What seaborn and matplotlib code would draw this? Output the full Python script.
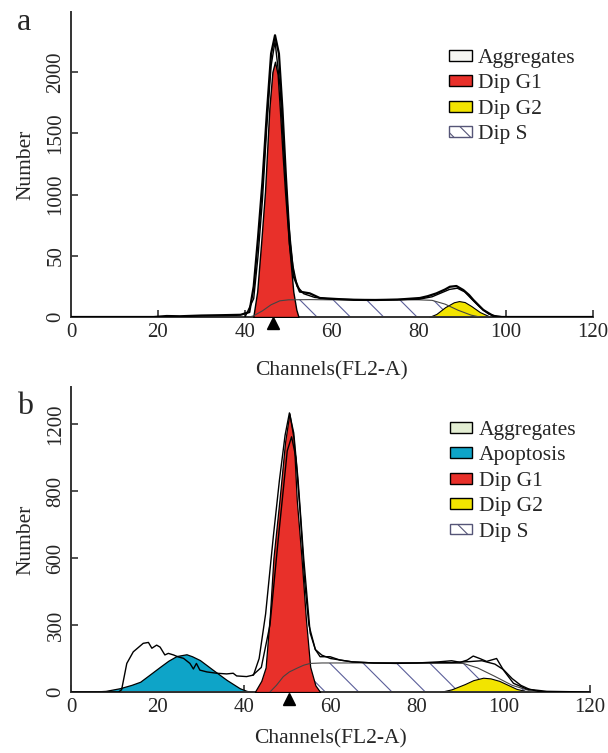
import matplotlib.pyplot as plt
import seaborn as sns
from matplotlib.patches import Patch

# ---------- panel a ----------
a_data_ch = [0, 19, 22, 25, 30, 35, 39, 41, 42, 43, 44, 45, 46, 46.9, 47.8, 48.6, 49.4, 50.3, 51.2, 52.6, 54.9,
             57.2, 61, 65, 70, 75, 80.2, 82, 84, 86, 87.1, 88.6, 90.2, 91.5, 92.5, 94.8, 97.1, 99, 120]
a_data = [0, 0, 8, 6, 12, 15, 18, 40, 250, 650, 1100, 1650, 2150, 2300, 2150, 1700, 1150, 600, 330, 207, 193,
          155, 147, 140, 139, 142, 155, 170, 193, 225, 247, 253, 220, 180, 139, 57, 8, 0, 0]
a_fit_ch = [40, 42, 43, 44, 45, 46, 46.9, 48, 49, 50, 51, 52, 53.5, 56, 60, 70, 80, 83, 85, 87, 88.8, 90.5,
            92, 94, 96, 98, 100]
a_fit = [0, 150, 500, 950, 1550, 2050, 2250, 1900, 1300, 780, 420, 250, 190, 160, 145, 140, 145, 165, 195,
         225, 235, 205, 150, 80, 25, 5, 0]
a_g1_ch = [41.9, 42.8, 43.7, 44.6, 45.6, 46.3, 46.9, 47.5, 48.0, 48.6, 49.2, 50.1, 51.1, 51.8, 52.3]
a_g1 = [0, 207, 600, 1023, 1704, 2000, 2084, 1980, 1704, 1350, 1023, 600, 207, 60, 0]
a_s_ch = [41, 42, 44, 46, 48, 50, 55, 60, 70, 80, 83, 86, 89, 92, 94]
a_s = [0, 10, 50, 100, 132, 140, 142, 140, 140, 140, 136, 105, 55, 15, 0]
a_g2_ch = [82.3, 84, 86, 88, 89.2, 90.5, 92, 94, 96.5]
a_g2 = [0, 25, 80, 120, 130, 122, 90, 40, 0]
a_marker = 46.4
a_yticks = [0, 500, 1000, 1500, 2000]
a_ylabels = ["0", "50", "1000", "1500", "2000"]

# ---------- panel b ----------
b_data_ch = [0, 11, 11.7, 12.9, 14.4, 16.7, 17.9, 18.7, 19.8, 20.6, 21.7, 22.5, 23.7, 24.8, 26, 27.5, 28.3,
             29, 29.8, 31.4, 33.7, 36, 37.5, 38.3, 40.6, 42.2, 43.5, 45, 46.8, 48.2, 49.5, 50.5, 51.5, 52.5,
             53.8, 55.3, 56.5, 57.6, 59.9, 62.2, 65, 70, 75, 80, 85, 88, 90, 91.6, 93, 94.5, 96.1, 98.4, 100,
             102.3, 105.4, 110, 120]
b_data = [0, 0, 10, 128, 180, 218, 222, 196, 210, 201, 166, 173, 166, 157, 151, 128, 103, 128, 98, 90, 84,
          81, 84, 72, 69, 76, 150, 350, 700, 950, 1150, 1250, 1160, 950, 600, 264, 190, 158, 158, 143, 135,
          130, 128, 130, 135, 140, 133, 143, 161, 150, 137, 150, 98, 39, 13, 3, 0]
b_fit_ch = [42, 44, 46, 48, 50, 51, 52, 53, 54, 55, 56.5, 58, 60, 65, 70, 80, 88, 92, 95, 98, 100, 102, 104,
            106, 108, 110]
b_fit = [75, 110, 300, 700, 1080, 1143, 1050, 800, 500, 300, 190, 165, 150, 135, 130, 130, 132, 136, 140,
         125, 100, 60, 30, 12, 3, 0]
b_apo_ch = [0, 4, 8, 11.3, 14, 16, 18, 20.6, 22.5, 24.4, 26.7, 28, 29.8, 32.9, 36, 39, 40.6, 42]
b_apo = [0, 1, 5, 17, 32, 46, 75, 113, 140, 161, 169, 160, 143, 98, 54, 17, 5, 0]
b_g1_ch = [42.5, 44, 45, 46, 46.8, 48.2, 49.5, 50.5, 51.5, 52.2, 53.3, 54.3, 55.3, 56.5, 57.6]
b_g1 = [0, 50, 110, 350, 600, 860, 1120, 1248, 1130, 860, 600, 330, 113, 30, 0]
b_s_ch = [46, 47.5, 49.1, 50.5, 52.2, 53.8, 55.3, 58, 70, 80, 90.7, 94, 98, 102, 106, 108]
b_s = [0, 30, 69, 90, 106, 120, 128, 130, 130, 130, 128, 108, 70, 30, 6, 0]
b_g2_ch = [85.3, 88, 91, 93, 95.3, 97, 99, 101, 103, 106.1]
b_g2 = [0, 12, 35, 53, 64, 61, 50, 32, 14, 0]
b_marker = 50.5
b_yticks = [0, 300, 600, 900, 1200]
b_ylabels = ["0", "300", "600", "800", "1200"]

RED = "#e8302a"
YELLOW = "#f2e400"
BLUE = "#0ea4c8"
HATCH = "#5b5f9a"
AXIS = "#333333"

sns.set_style("ticks")
plt.rcParams["font.family"] = ["Liberation Serif", "DejaVu Serif"]
plt.rcParams["hatch.linewidth"] = 0.8

fig = plt.figure(figsize=(6.08, 7.53), dpi=100)
ax_a = fig.add_axes([71 / 608, 1 - 317 / 753, 522 / 608, 305 / 753])
ax_b = fig.add_axes([71 / 608, 1 - 692 / 753, 519 / 608, 305 / 753])


def line(ax, x, y, lw=1.0, color="black", z=6):
    sns.lineplot(x=x, y=y, ax=ax, color=color, lw=lw, estimator=None, sort=False, zorder=z)


def style(ax, ymax, ticks, labels, marker, ymark, xpad):
    ax.set_xlim(0, 120)
    ax.set_ylim(0, ymax)
    ax.set_xticks(range(0, 121, 20))
    ax.set_yticks(ticks)
    ax.set_yticklabels(labels, rotation=90, va="center")
    ax.tick_params(direction="in", length=5, width=1.2, labelsize=15, pad=4, color=AXIS)
    sns.despine(ax=ax)
    for sp in ["left", "bottom"]:
        ax.spines[sp].set_color(AXIS)
        ax.spines[sp].set_linewidth(1.4)
    ax.set_xlabel("Channels(FL2-A)", fontsize=15.5, labelpad=xpad)
    ax.set_ylabel("Number", fontsize=15.5, labelpad=8)
    ax.plot([marker], [ymark], marker="^", color="black", markersize=8,
            transform=ax.get_xaxis_transform(), clip_on=False)


# panel a
ax = ax_a
ax.fill_between(a_s_ch, a_s, facecolor="white", edgecolor=HATCH, hatch="\\", linewidth=0, zorder=1)
line(ax, a_s_ch, a_s, lw=0.8, color="#444444", z=4)
ax.fill_between(a_g2_ch, a_g2, facecolor=YELLOW, edgecolor="black", linewidth=0.8, zorder=2)
ax.fill_between(a_g1_ch, a_g1, facecolor=RED, edgecolor="black", linewidth=1.0, zorder=3)
line(ax, a_data_ch, a_data, lw=1.6)
line(ax, a_fit_ch, a_fit, lw=1.0)
style(ax, 2490, a_yticks, a_ylabels, a_marker, -0.02, 14)
leg_a = [
    Patch(facecolor="#f6f6f2", edgecolor="black", label="Aggregates"),
    Patch(facecolor=RED, edgecolor="black", label="Dip G1"),
    Patch(facecolor=YELLOW, edgecolor="black", label="Dip G2"),
    Patch(facecolor="white", edgecolor="#555577", hatch="\\\\", label="Dip S"),
]
ax.legend(handles=leg_a, loc="upper left", bbox_to_anchor=(0.724, 0.879), frameon=False, borderpad=0,
          borderaxespad=0, handlelength=1.05, handleheight=0.4, handletextpad=0.3, labelspacing=0.3,
          fontsize=15.5)

# panel b
ax = ax_b
ax.fill_between(b_s_ch, b_s, facecolor="white", edgecolor=HATCH, hatch="\\", linewidth=0, zorder=1)
line(ax, b_s_ch, b_s, lw=0.8, color="#444444", z=4)
ax.fill_between(b_g2_ch, b_g2, facecolor=YELLOW, edgecolor="black", linewidth=0.8, zorder=2)
ax.fill_between(b_apo_ch, b_apo, facecolor=BLUE, edgecolor="black", linewidth=0.9, zorder=2)
ax.fill_between(b_g1_ch, b_g1, facecolor=RED, edgecolor="black", linewidth=0.9, zorder=3)
line(ax, b_data_ch, b_data, lw=1.0)
line(ax, b_fit_ch, b_fit, lw=1.0)
style(ax, 1366, b_yticks, b_ylabels, b_marker, -0.023, 9)
leg_b = [
    Patch(facecolor="#e3eed3", edgecolor="black", label="Aggregates"),
    Patch(facecolor=BLUE, edgecolor="black", label="Apoptosis"),
    Patch(facecolor=RED, edgecolor="black", label="Dip G1"),
    Patch(facecolor=YELLOW, edgecolor="black", label="Dip G2"),
    Patch(facecolor="white", edgecolor="#555577", hatch="\\\\", label="Dip S"),
]
ax.legend(handles=leg_b, loc="upper left", bbox_to_anchor=(0.730, 0.889), frameon=False, borderpad=0,
          borderaxespad=0, handlelength=1.05, handleheight=0.4, handletextpad=0.3, labelspacing=0.3,
          fontsize=15.5)

fig.text(24 / 608, 1 - 23 / 753, "a", fontsize=23, ha="center", va="center")
fig.text(25 / 608, 1 - 406 / 753, "b", fontsize=23, ha="center", va="center")

fig.savefig("out.png", dpi=100)
